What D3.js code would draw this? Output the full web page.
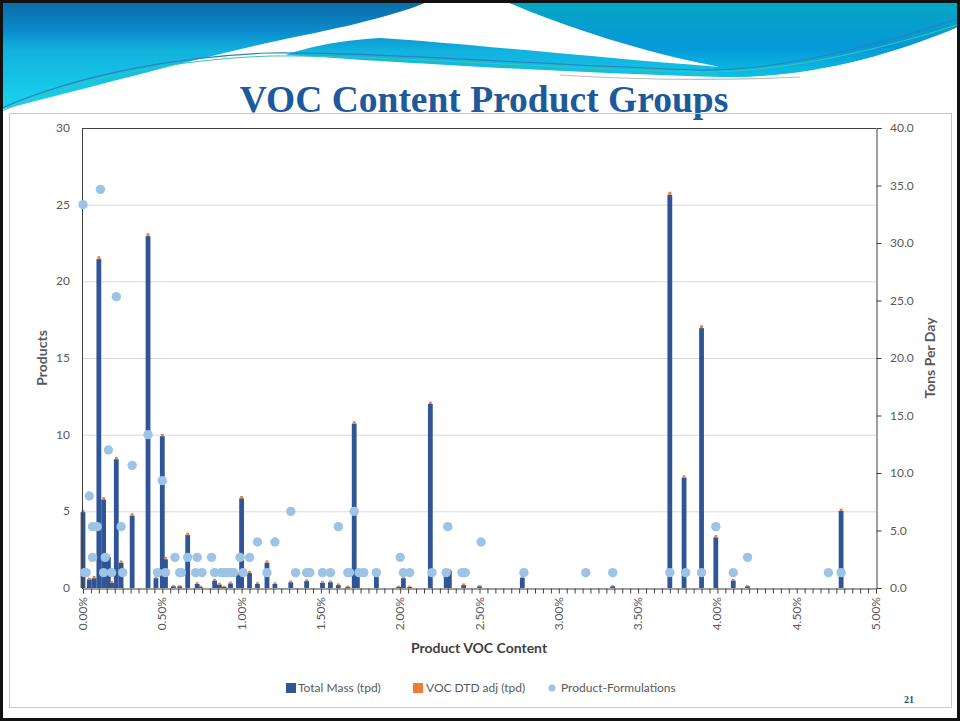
<!DOCTYPE html>
<html>
<head>
<meta charset="utf-8">
<script src="https://cdn.jsdelivr.net/npm/d3@7"></script>
<style>
  body { margin: 0; background: #fff; }
  svg { display: block; }
  text { font-family: Lato, "Open Sans", sans-serif; }
</style>
</head>
<body>
<svg id="slide" width="960" height="721"></svg>
<script>
// ---------- data ----------
// bar positions (product VOC content, in %) and stacked tpd values
var barPct = [0.00,0.04,0.07,0.10,0.13,0.16,0.18,0.21,0.24,0.31,0.41,0.46,0.50,0.52,0.57,0.61,0.66,0.72,0.74,0.83,
              0.86,0.89,0.93,0.98,1.00,1.05,1.10,1.16,1.21,1.31,1.41,1.51,1.56,1.61,1.67,1.71,1.73,1.85,1.99,2.02,
              2.06,2.19,2.29,2.31,2.40,2.50,2.77,3.34,3.70,3.79,3.90,3.99,4.10,4.19,4.78];
var totalMass = [6.6,0.75,0.85,28.6,7.7,2.7,0.45,11.2,2.2,6.3,30.6,0.85,13.2,2.5,0.15,0.15,4.6,0.35,0.1,0.65,
                 0.3,0.1,0.4,1.2,7.8,1.3,0.35,2.2,0.35,0.5,0.6,0.45,0.5,0.25,0.1,14.3,1.2,1.0,0.1,0.85,
                 0.1,16.0,1.3,1.5,0.25,0.15,0.9,0.15,34.2,9.6,22.6,4.4,0.65,0.15,6.7];
var vocAdj = [0.2,0.15,0.2,0.25,0.2,0.2,0.15,0.2,0.2,0.2,0.25,0.15,0.2,0.2,0.1,0.1,0.2,0.15,0.1,0.15,
              0.15,0.1,0.15,0.15,0.2,0.2,0.15,0.2,0.15,0.15,0.15,0.15,0.15,0.15,0.1,0.2,0.15,0.15,0.1,0.15,
              0.1,0.2,0.15,0.15,0.15,0.1,0.15,0.1,0.25,0.2,0.25,0.2,0.15,0.1,0.2];
// scatter: product-formulations count per VOC content
var dotPct = [0.00,0.11,0.21,0.41,0.16,0.31,0.50,0.04,0.06,0.09,0.24,0.06,0.14,0.58,0.66,0.72,0.81,0.99,1.05,1.10,
              1.21,1.31,1.71,1.61,2.30,2.00,2.51,3.99,4.19,
              0.01,0.02,0.13,0.18,0.25,0.47,0.52,0.61,0.62,0.71,0.75,0.83,0.87,0.89,0.91,0.93,0.95,1.01,1.16,1.34,
              1.41,1.43,1.51,1.56,1.67,1.68,1.74,1.77,1.85,2.02,2.06,2.20,2.29,2.39,2.41,2.78,3.17,3.34,3.70,3.80,
              3.90,4.10,4.70,4.78];
var dotProducts = [25,26,19,10,9,8,7,6,4,4,4,2,2,2,2,2,2,2,2,3,
                   3,5,5,4,4,2,3,4,2,
                   1,1,1,1,1,1,1,1,1,1,1,1,1,1,1,1,1,1,1,1,
                   1,1,1,1,1,1,1,1,1,1,1,1,1,1,1,1,1,1,1,1,
                   1,1,1,1];
var xTicks = [0,0.5,1,1.5,2,2.5,3,3.5,4,4.5,5];
var leftTicks = [0,5,10,15,20,25,30];
var rightTicks = [0,5,10,15,20,25,30,35,40];
var legendItems = ["Total Mass (tpd)","VOC DTD adj (tpd)","Product-Formulations"];

var colBlue = "#2f5597", colOrange = "#ed7d31", colDot = "#9dc3e6", axisText = "#595959";

var svg = d3.select("#slide");

/*************** slide header ***************/
var defs = svg.append("defs");
var grad = defs.append("linearGradient").attr("id","hdr")
  .attr("gradientUnits","userSpaceOnUse")
  .attr("x1",0).attr("y1",0).attr("x2",0).attr("y2",112);
grad.append("stop").attr("offset","0%").attr("stop-color","#0a69a5");
grad.append("stop").attr("offset","28%").attr("stop-color","#0a8ccb");
grad.append("stop").attr("offset","45%").attr("stop-color","#12b2de");
grad.append("stop").attr("offset","100%").attr("stop-color","#1ad6ee");
var grad2 = defs.append("linearGradient").attr("id","hdr2")
  .attr("gradientUnits","userSpaceOnUse")
  .attr("x1",0).attr("y1",0).attr("x2",0).attr("y2",78);
grad2.append("stop").attr("offset","0%").attr("stop-color","#06a7c1");
grad2.append("stop").attr("offset","60%").attr("stop-color","#0598d8");
grad2.append("stop").attr("offset","100%").attr("stop-color","#0cc2e4");

// blue band
svg.append("path")
  .attr("d","M0,0 L960,0 L960,26 C880,60 800,78 720,77 C600,74 460,66 380,61 C330,58 300,55 270,55 C160,64 60,98 0,120 Z")
  .attr("fill","url(#hdr)");
// teal right part above the swoosh stripe
svg.append("path")
  .attr("d","M490,0 L960,0 L960,26 C880,60 800,78 720,77 L713,67 C640,52 560,25 490,0 Z")
  .attr("fill","url(#hdr2)");
// white swoosh
svg.append("path")
  .attr("d","M0,110 C120,80 220,52 300,36 C370,22 410,10 432,0 L502,0 C560,25 640,52 720,67 C600,58 470,44 380,38 C320,42 290,52 270,62 L0,150 Z")
  .attr("fill","#fff");
// thin lines
svg.append("path")
  .attr("d","M2,108 C80,74 180,56 270,53 C380,52 560,66 700,70 C780,71 880,45 960,18")
  .attr("fill","none").attr("stroke","#2e7fc4").attr("stroke-width",1.2);
svg.append("path")
  .attr("d","M2,111 C80,77 180,59 270,56 C380,55 560,69 700,72 C780,73 880,50 960,24")
  .attr("fill","none").attr("stroke","#3cc9a0").attr("stroke-width",1);
svg.append("path")
  .attr("d","M560,75 C640,80 720,81 800,77")
  .attr("fill","none").attr("stroke","#bdbdbd").attr("stroke-width",1.2);

// title
svg.append("text")
  .attr("x",484).attr("y",112)
  .attr("text-anchor","middle")
  .style("font-family","'Liberation Serif', 'DejaVu Serif', serif")
  .style("font-weight","bold").style("font-size","37.5px")
  .attr("fill","#1c5a9c")
  .text("VOC Content Product Groups");

// chart box
svg.append("rect").attr("x",9.5).attr("y",113.5).attr("width",942).attr("height",594)
  .attr("fill","none").attr("stroke","#c8c8c8");

/*************** chart ***************/
var x = d3.scaleLinear().domain([0,5]).range([83,876]);
var yL = d3.scaleLinear().domain([0,30]).range([588,128]);
var yR = d3.scaleLinear().domain([0,40]).range([588,128]);
var barW = 4.8;

var g = svg.append("g");

// gridlines
g.append("g").selectAll("line").data(leftTicks.filter(function(d){return d>0 && d<30;}))
  .join("line")
  .attr("x1",x(0)).attr("x2",x(5))
  .attr("y1",function(d){return yL(d)+0.5;}).attr("y2",function(d){return yL(d)+0.5;})
  .attr("stroke","#d9d9d9");
g.append("line").attr("x1",x(0)).attr("x2",x(5)).attr("y1",yL(30)+0.5).attr("y2",yL(30)+0.5)
  .attr("stroke","#404040");

// bars (stacked: total mass then VOC adj)
var bars = barPct.map(function(p,i){return {p:p, m:totalMass[i], v:vocAdj[i]};});
g.append("g").selectAll("rect").data(bars).join("rect")
  .attr("x",function(d){return x(d.p)-barW/2;})
  .attr("width",barW)
  .attr("y",function(d){return yR(d.m);})
  .attr("height",function(d){return yR(0)-yR(d.m);})
  .attr("fill",colBlue);
g.append("g").selectAll("rect").data(bars).join("rect")
  .attr("x",function(d){return x(d.p)-barW/2+1;})
  .attr("width",barW-2)
  .attr("y",function(d){return yR(d.m+d.v);})
  .attr("height",function(d){return yR(d.m)-yR(d.m+d.v);})
  .attr("fill",colOrange);

// axes
var xAxis = d3.axisBottom(x).tickValues(d3.range(0,101).map(function(i){return i*0.05;}))
  .tickSize(5).tickFormat("");
var gx = g.append("g").attr("transform","translate(0,588.5)").call(xAxis);
gx.select(".domain").attr("stroke","#404040");
gx.selectAll(".tick line").attr("stroke","#404040");

g.append("g").selectAll("text").data(xTicks).join("text")
  .attr("transform",function(d){return "translate("+(x(d)+4)+",597) rotate(-90)";})
  .attr("text-anchor","end")
  .attr("fill",axisText).style("font-size","12px")
  .text(function(d){return d3.format(".2%")(d/100);});

g.append("line").attr("x1",82.5).attr("x2",82.5).attr("y1",128).attr("y2",589).attr("stroke","#404040");
g.append("g").selectAll("text").data(leftTicks).join("text")
  .attr("x",70).attr("y",function(d){return yL(d)+4;})
  .attr("text-anchor","end").attr("fill",axisText).style("font-size","12px")
  .text(function(d){return d;});

var yAxisR = d3.axisRight(yR).tickValues(rightTicks).tickSize(5).tickFormat("");
var gy = g.append("g").attr("transform","translate(876.5,0)").call(yAxisR);
gy.select(".domain").attr("stroke","#404040");
gy.selectAll(".tick line").attr("stroke","#404040");
g.append("g").selectAll("text").data(rightTicks).join("text")
  .attr("x",890).attr("y",function(d){return yR(d)+4;})
  .attr("fill",axisText).style("font-size","12px")
  .text(function(d){return d3.format(".1f")(d);});

// dots
var dots = dotPct.map(function(p,i){return {p:p, n:dotProducts[i]};});
g.append("g").selectAll("circle").data(dots).join("circle")
  .attr("cx",function(d){return x(d.p);})
  .attr("cy",function(d){return yL(d.n);})
  .attr("r",4.7)
  .attr("fill",colDot);

// axis titles
g.append("text").attr("transform","translate(47,358) rotate(-90)")
  .attr("text-anchor","middle").attr("fill",axisText)
  .style("font-size","14px").style("font-weight","bold").text("Products");
g.append("text").attr("transform","translate(935,358) rotate(-90)")
  .attr("text-anchor","middle").attr("fill",axisText)
  .style("font-size","14px").style("font-weight","bold").text("Tons Per Day");
g.append("text").attr("x",479).attr("y",653)
  .attr("text-anchor","middle").attr("fill","#404040")
  .style("font-size","14px").style("font-weight","bold").text("Product VOC Content");

// legend
var lg = svg.append("g").attr("transform","translate(286,688)");
lg.append("rect").attr("x",0).attr("y",-5).attr("width",10).attr("height",10).attr("fill",colBlue);
lg.append("text").attr("x",12).attr("y",4).attr("fill",axisText).style("font-size","12px").text(legendItems[0]);
lg.append("rect").attr("x",127).attr("y",-5).attr("width",10).attr("height",10).attr("fill",colOrange);
lg.append("text").attr("x",140).attr("y",4).attr("fill",axisText).style("font-size","12px").text(legendItems[1]);
lg.append("circle").attr("cx",266).attr("cy",0).attr("r",3.5).attr("fill",colDot);
lg.append("text").attr("x",275).attr("y",4).attr("fill",axisText).style("font-size","12px").text(legendItems[2]);

// page number
svg.append("text").attr("x",909).attr("y",703).attr("text-anchor","middle")
  .style("font-family","'Liberation Serif', serif").style("font-size","10px").style("font-weight","bold")
  .attr("fill","#1f4e79").text("21");

// slide frame
svg.append("rect").attr("x",1.5).attr("y",1.5).attr("width",957).attr("height",718)
  .attr("fill","none").attr("stroke","#111").attr("stroke-width",3);
</script>
</body>
</html>
